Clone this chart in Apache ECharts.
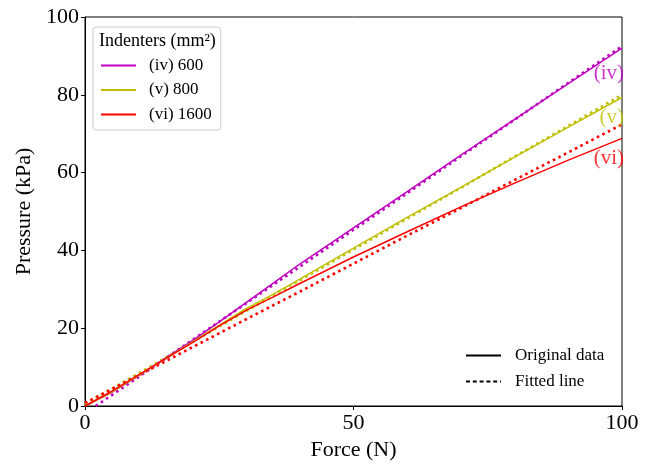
<!DOCTYPE html>
<html>
<head>
<meta charset="utf-8">
<script src="https://cdn.jsdelivr.net/npm/echarts@6/dist/echarts.min.js"></script>
<style>html,body{margin:0;padding:0;background:#fff;}#c{width:649px;height:466px;}</style>
</head>
<body>
<div id="c"></div>
<script>
// ---- data ----
const xTicks = [0, 50, 100];
const yTicks = [0, 20, 40, 60, 80, 100];
const seriesNames = ['(iv) 600', '(v) 800', '(vi) 1600'];
const curveTags = ['(iv)', '(v)', '(vi)'];

const ivForce = [0, 5, 10, 15, 20, 25, 30, 35, 40, 50, 60, 70, 80, 90, 100];
const ivPressure = [0, 3.5, 7.8, 12.3, 16.8, 21.6, 26.6, 31.5, 36.5, 45.8, 55.1, 64.5, 73.7, 82.9, 92];
const vForce = [0, 5, 10, 15, 20, 25, 30, 35, 40, 50, 60, 70, 80, 90, 100];
const vPressure = [0, 3.6, 7.9, 12.2, 16.5, 20.8, 25, 28.7, 32.6, 40.6, 48.5, 56.2, 64, 71.7, 79.3];
const viForce = [0, 5, 10, 15, 20, 25, 30, 35, 40, 50, 60, 70, 80, 90, 100];
const viPressure = [0, 3.8, 8, 12.2, 16.3, 20.6, 24.6, 28, 31.5, 38.3, 44.8, 51.2, 57.3, 63.2, 68.8];

const ivFitForce = [2, 10, 20, 30, 40, 50, 60, 70, 80, 90, 100];
const ivFitPressure = [0, 7.5, 17, 26.4, 35.8, 45.3, 54.7, 64.2, 73.6, 83.1, 92.5];
const vFitForce = [0, 10, 20, 30, 40, 50, 60, 70, 80, 90, 100];
const vFitPressure = [0.5, 8.4, 16.4, 24.4, 32.3, 40.2, 48.2, 56.1, 64.1, 72, 80];
const viFitForce = [0, 10, 20, 30, 40, 50, 60, 70, 80, 90, 100];
const viFitPressure = [0.8, 7.9, 15.1, 22.3, 29.4, 36.6, 43.8, 50.9, 58.1, 65.2, 72.4];

// label anchor points (data coords) for the curve tags
const tagForce = [100, 100, 100];
const tagPressure = [85.6, 74.1, 63.6];

const colors = ['#bf00bf', '#bfbf00', '#ff0000'];
const FONT = "'Liberation Serif','Times New Roman',serif";

function zip(xs, ys) { return xs.map((x, i) => [x, ys[i]]); }

const chart = echarts.init(document.getElementById('c'), null, {renderer: 'canvas'});

const solid = [zip(ivForce, ivPressure), zip(vForce, vPressure), zip(viForce, viPressure)];
const fits = [zip(ivFitForce, ivFitPressure), zip(vFitForce, vFitPressure), zip(viFitForce, viFitPressure)];

const series = [];
for (let i = 0; i < 3; i++) {
  series.push({
    name: seriesNames[i], type: 'line', data: solid[i], symbol: 'none', smooth: false,
    lineStyle: {color: colors[i], width: 1.5}, itemStyle: {color: colors[i]}, z: 3, animation: false
  });
}
for (let i = 0; i < 3; i++) {
  series.push({
    name: 'fit' + i, type: 'line', data: fits[i], symbol: 'none',
    lineStyle: {color: colors[i], width: 2.6, type: [2.6, 3.6], cap: 'butt'}, z: 2, animation: false
  });
}
// curve tags
series.push({
  type: 'scatter', symbolSize: 0, animation: false, silent: true,
  data: tagForce.map((x, i) => ({
    value: [x, tagPressure[i]],
    label: {show: true, formatter: curveTags[i], position: 'left', distance: -2, color: colors[i],
      fontFamily: FONT, fontSize: 21}
  })),
  z: 5
});
// dummy series for style legend
series.push({name: 'Original data', type: 'line', data: [], symbol: 'none', lineStyle: {color: '#000', width: 1.5}, itemStyle: {color: '#000'}});
series.push({name: 'Fitted line', type: 'line', data: [], symbol: 'none', lineStyle: {color: '#000', width: 1.5, type: [4, 2.8]}, itemStyle: {color: '#000'}});

const option = {
  animation: false,
  backgroundColor: '#fff',
  grid: {left: 85, right: 27, top: 17, bottom: 58, show: true, borderColor: '#000', borderWidth: 1, backgroundColor: 'transparent'},
  xAxis: {
    type: 'value', min: xTicks[0], max: xTicks[xTicks.length - 1], interval: 50,
    name: 'Force (N)', nameLocation: 'middle', nameGap: 33,
    nameTextStyle: {fontFamily: FONT, fontSize: 22, color: '#000'},
    axisLine: {lineStyle: {color: '#000', width: 1}},
    axisTick: {show: true, length: 4, lineStyle: {color: '#000'}},
    axisLabel: {fontFamily: FONT, fontSize: 22, color: '#000', margin: 6},
    splitLine: {show: false}
  },
  yAxis: {
    type: 'value', min: yTicks[0], max: yTicks[yTicks.length - 1], interval: 20,
    name: 'Pressure (kPa)', nameLocation: 'middle', nameGap: 44,
    nameTextStyle: {fontFamily: FONT, fontSize: 22, color: '#000'},
    axisLine: {lineStyle: {color: '#000', width: 1}},
    axisTick: {show: true, length: 4, lineStyle: {color: '#000'}},
    axisLabel: {fontFamily: FONT, fontSize: 22, color: '#000', margin: 6},
    splitLine: {show: false}
  },
  legend: [
    {
      data: seriesNames, orient: 'vertical', left: 93, top: 27,
      padding: [30, 9, 7, 7], itemGap: 7.5, itemWidth: 35, itemHeight: 14,
      itemStyle: {opacity: 0},
      borderColor: '#cccccc', borderWidth: 1, borderRadius: 3, backgroundColor: 'rgba(255,255,255,0.8)',
      textStyle: {fontFamily: FONT, fontSize: 17, color: '#000', padding: [0, 0, 0, 8]},
      selectedMode: false
    },
    {
      data: ['Original data', 'Fitted line'], orient: 'vertical', left: 465, top: 347,
      padding: 0, itemGap: 9, itemWidth: 35, itemHeight: 17,
      itemStyle: {opacity: 0},
      textStyle: {fontFamily: FONT, fontSize: 17, color: '#000', padding: [0, 0, 0, 9]},
      selectedMode: false
    }
  ],
  graphic: [
    {type: 'text', left: 99, top: 32, style: {text: 'Indenters (mm²)', font: "18px 'Liberation Serif','Times New Roman',serif", fill: '#000'}, z: 100}
  ],
  series: series
};
chart.setOption(option);
</script>
</body>
</html>
